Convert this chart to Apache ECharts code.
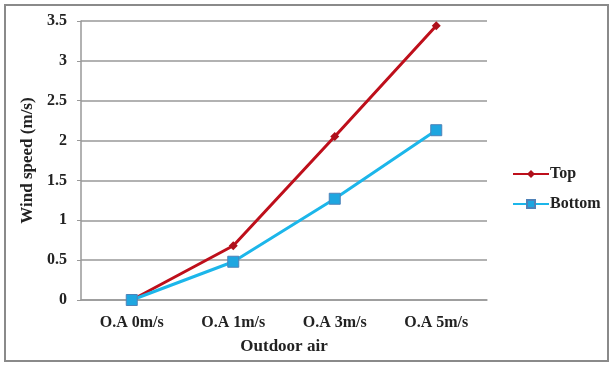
<!DOCTYPE html>
<html lang="en">
<head>
    <meta charset="UTF-8">
    <title>Wind speed vs outdoor air</title>
    <script src="https://cdn.jsdelivr.net/npm/echarts@6/dist/echarts.min.js"></script>
    <style>
        html, body { margin: 0; padding: 0; background: #fff; }
        #chart { width: 613px; height: 365px; }
    </style>
</head>
<body>
<div id="chart"></div>
<script>
  var categories = ['O.A 0m/s', 'O.A 1m/s', 'O.A 3m/s', 'O.A 5m/s'];
  var topSpeed = [0, 0.68, 2.05, 3.44];
  var bottomSpeed = [0, 0.48, 1.27, 2.13];
  var yTicks = { min: 0, max: 3.5, interval: 0.5 };

  var font = 'Liberation Serif';
  var myChart = echarts.init(document.getElementById('chart'));

  myChart.setOption({
    animation: false,
    backgroundColor: '#fff',
    graphic: [
      {
        type : 'rect',
        shape: { x: 5, y: 5, width: 603, height: 356 },
        style: { fill: 'none', stroke: '#8a8a8a', lineWidth: 2 }
      }
    ],
    grid   : { left: 81, right: 126, top: 21, bottom: 65 },
    legend : {
      orient   : 'vertical',
      left     : 507,
      top      : 161,
      itemGap  : 14,
      itemWidth: 36,
      itemHeight: 10,
      textStyle: { fontFamily: font, fontWeight: 'bold', fontSize: 16, color: '#222', padding: [0, 0, 0, -4] },
      data     : ['Top', 'Bottom']
    },
    xAxis  : {
      type        : 'category',
      data        : categories,
      boundaryGap : true,
      name        : 'Outdoor air',
      nameLocation: 'middle',
      nameGap     : 38,
      nameTextStyle: { fontFamily: font, fontWeight: 'bold', fontSize: 17, color: '#222' },
      axisLine    : { lineStyle: { color: '#999', width: 1.5 } },
      axisTick    : { show: false },
      axisLabel   : { fontFamily: font, fontWeight: 'bold', fontSize: 16, color: '#222', margin: 15 }
    },
    yAxis  : {
      type        : 'value',
      min         : yTicks.min,
      max         : yTicks.max,
      interval    : yTicks.interval,
      name        : 'Wind speed (m/s)',
      nameLocation: 'middle',
      nameGap     : 43,
      nameRotate  : 90,
      nameTextStyle: { fontFamily: font, fontWeight: 'bold', fontSize: 17, color: '#222' },
      axisLine    : { show: true, lineStyle: { color: '#999', width: 1.5 } },
      axisTick    : { show: true, length: 4, lineStyle: { color: '#999' } },
      axisLabel   : { fontFamily: font, fontWeight: 'bold', fontSize: 16, color: '#222', margin: 14 },
      splitLine   : { lineStyle: { color: '#999', width: 1.5 } }
    },
    series : [
      {
        name      : 'Top',
        type      : 'line',
        data      : topSpeed,
        symbol    : 'diamond',
        symbolSize: 9,
        lineStyle : { color: '#BE0F1B', width: 3 },
        itemStyle : { color: '#AE101B' }
      },
      {
        name      : 'Bottom',
        type      : 'line',
        data      : bottomSpeed,
        symbol    : 'rect',
        symbolSize: 11,
        lineStyle : { color: '#1CB6EA', width: 3 },
        itemStyle : { color: '#1EA6E0', borderColor: '#4F82B8', borderWidth: 1 }
      }
    ]
  });
</script>
</body>
</html>
